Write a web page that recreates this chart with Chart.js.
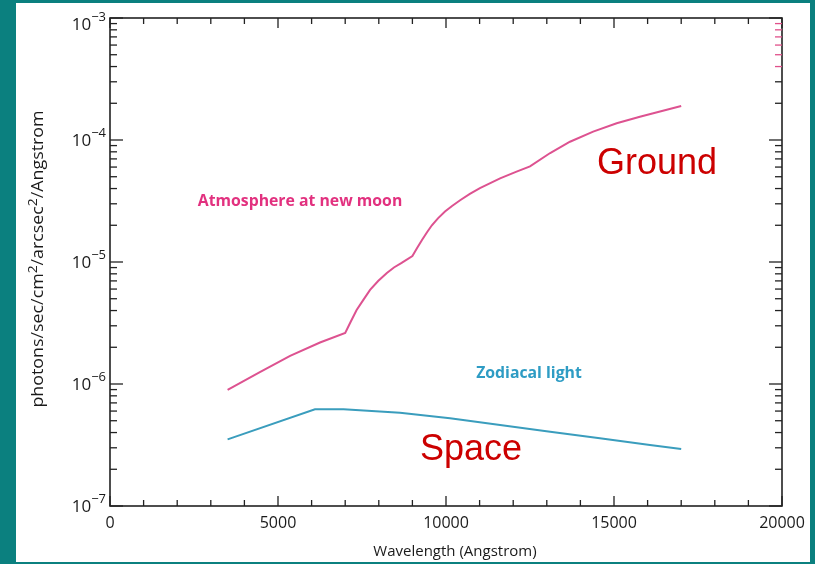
<!DOCTYPE html>
<html>
<head>
<meta charset="utf-8">
<script src="https://cdn.jsdelivr.net/npm/chart.js@4"></script>
<style>
  html, body { margin: 0; padding: 0; background: #0b807f; }
  canvas { display: block; }
</style>
</head>
<body>
<canvas id="grafica" width="815" height="564"></canvas>
<script>
// wavelength (Angstrom) and sky brightness
const atmWave = [3500, 4460, 5360, 6250, 7000, 7160, 7340, 7530, 7740, 7980, 8240, 8450, 8680, 9000, 9140, 9290, 9440, 9580, 9760, 9970, 10180, 10420, 10710, 11010, 11610, 12100, 12500, 13100, 13690, 14380, 15080, 15770, 16370, 17000];
const atmFlux = [8.93e-7, 1.25e-6, 1.7e-6, 2.19e-6, 2.62e-6, 3.22e-6, 4.04e-6, 4.85e-6, 5.9e-6, 6.99e-6, 8.13e-6, 9.02e-6, 9.82e-6, 1.12e-5, 1.3e-5, 1.52e-5, 1.76e-5, 2.0e-5, 2.28e-5, 2.59e-5, 2.88e-5, 3.21e-5, 3.62e-5, 4.04e-5, 4.85e-5, 5.5e-5, 6.07e-5, 7.82e-5, 9.68e-5, 1.17e-4, 1.37e-4, 1.55e-4, 1.71e-4, 1.9e-4];
const zodWave = [3500, 6100, 6950, 8630, 10120, 11610, 13100, 14580, 16070, 17000];
const zodFlux = [3.52e-7, 6.21e-7, 6.21e-7, 5.82e-7, 5.24e-7, 4.61e-7, 4.06e-7, 3.59e-7, 3.16e-7, 2.93e-7];

const xTickValues = [0, 5000, 10000, 15000, 20000];
const yDecades = [1e-7, 1e-6, 1e-5, 1e-4, 1e-3];
const yDecadeLabels = ["−7", "−6", "−5", "−4", "−3"];

// text labels placed in data coordinates
const notes = [
  { text: "Atmosphere at new moon", x: 5655, y: 3.12e-5, color: "#e2317f", font: "bold 15.8px 'Open Sans'" },
  { text: "Zodiacal light", x: 12470, y: 1.23e-6, color: "#2e9cc4", font: "bold 15.8px 'Open Sans'" },
  { text: "Ground", x: 16280, y: 6.4e-5, color: "#cc0000", font: "36px 'Liberation Sans'" },
  { text: "Space", x: 10745, y: 2.88e-7, color: "#cc0000", font: "36px 'Liberation Sans'" }
];

const frame = {
  id: "frame",
  beforeDraw(chart) {
    const c = chart.ctx;
    c.save();
    c.fillStyle = "#0b807f";
    c.fillRect(0, 0, chart.width, chart.height);
    c.fillStyle = "#ffffff";
    c.fillRect(16, 3, 794, 559);
    c.restore();
  },
  afterDraw(chart) {
    const c = chart.ctx;
    const xs = chart.scales.x, ys = chart.scales.y;
    const a = chart.chartArea;
    c.save();
    c.strokeStyle = "#222";
    c.lineWidth = 1.6;
    c.strokeRect(a.left, a.top, a.right - a.left, a.bottom - a.top);

    // x ticks, pointing inward, top and bottom
    c.lineWidth = 1.3;
    for (let v = 0; v <= 20000; v += 1000) {
      const px = xs.getPixelForValue(v);
      const len = v % 5000 === 0 ? 10 : 6;
      c.beginPath();
      c.moveTo(px, a.bottom); c.lineTo(px, a.bottom - len);
      c.moveTo(px, a.top); c.lineTo(px, a.top + len);
      c.stroke();
    }
    // y ticks on log scale, left and right
    yDecades.forEach(d => {
      for (let m = 1; m <= 9; m++) {
        const v = d * m;
        if (v > 1e-3 * 1.0001) break;
        const py = ys.getPixelForValue(v);
        const len = m === 1 ? 13 : 7;
        c.strokeStyle = "#222";
        c.beginPath();
        c.moveTo(a.left, py); c.lineTo(a.left + len, py);
        c.stroke();
        c.strokeStyle = (d === 1e-4 && m >= 4) ? "#e0508a" : "#222";
        c.beginPath();
        c.moveTo(a.right, py); c.lineTo(a.right - len, py);
        c.stroke();
      }
    });

    // y tick labels 10^n
    c.fillStyle = "#1a1a1a";
    c.textBaseline = "alphabetic";
    c.textAlign = "right";
    yDecades.forEach((d, i) => {
      const py = ys.getPixelForValue(d) + (d === 1e-3 ? 6 : 0);
      c.font = "13px 'Open Sans'";
      const exp = yDecadeLabels[i];
      const ew = c.measureText(exp).width;
      c.fillText(exp, a.left - 4, py - 3);
      c.font = "17px 'Open Sans'";
      c.fillText("10", a.left - 4 - ew, py + 6);
    });

    // y axis title with raised 2s
    const parts = [["photons/sec/cm", 0], ["2", 1], ["/arcsec", 0], ["2", 1], ["/Angstrom", 0]];
    const fontFor = p => p[1] ? "12px 'Open Sans'" : "15.5px 'Open Sans'";
    let total = 0;
    parts.forEach(p => { c.font = fontFor(p); total += c.measureText(p[0]).width; });
    c.textAlign = "left";
    c.translate(38, 259);
    c.rotate(-Math.PI / 2);
    c.scale(1.15, 1);
    let x0 = -total / 2;
    parts.forEach(p => {
      c.font = fontFor(p);
      c.fillText(p[0], x0, p[1] ? -1 : 5);
      x0 += c.measureText(p[0]).width;
    });
    c.setTransform(1, 0, 0, 1, 0, 0);

    // x axis title
    c.font = "15px 'Open Sans'";
    c.textAlign = "center";
    c.textBaseline = "middle";
    c.fillText("Wavelength (Angstrom)", 455, 552);

    notes.forEach(n => {
      c.font = n.font;
      c.fillStyle = n.color;
      c.textAlign = "center";
      c.textBaseline = "middle";
      c.fillText(n.text, xs.getPixelForValue(n.x), ys.getPixelForValue(n.y));
    });
    c.restore();
  }
};

new Chart(document.getElementById("grafica").getContext("2d"), {
  type: "line",
  data: {
    datasets: [
      {
        label: "Atmosphere at new moon",
        data: atmWave.map((w, i) => ({ x: w, y: atmFlux[i] })),
        borderColor: "#dd5290",
        borderWidth: 2,
        pointRadius: 0,
        tension: 0
      },
      {
        label: "Zodiacal light",
        data: zodWave.map((w, i) => ({ x: w, y: zodFlux[i] })),
        borderColor: "#3a9dbd",
        borderWidth: 2,
        pointRadius: 0,
        tension: 0
      }
    ]
  },
  options: {
    responsive: false,
    animation: false,
    layout: { padding: { left: 0, right: 33, top: 18, bottom: 0 } },
    plugins: {
      legend: { display: false },
      tooltip: { enabled: false }
    },
    scales: {
      x: {
        type: "linear",
        min: 0,
        max: 20000,
        afterBuildTicks: s => { s.ticks = xTickValues.map(v => ({ value: v })); },
        afterFit: s => { s.height = 58; },
        grid: { display: false, drawTicks: false },
        border: { display: false },
        ticks: {
          padding: 8,
          color: "#1a1a1a",
          font: { family: "'Open Sans'", size: 16 },
          maxRotation: 0,
          callback: v => String(v)
        }
      },
      y: {
        type: "logarithmic",
        min: 1e-7,
        max: 1e-3,
        afterFit: s => { s.width = 110; },
        grid: { display: false, drawTicks: false },
        border: { display: false },
        ticks: { display: false }
      }
    }
  },
  plugins: [frame]
});
</script>
</body>
</html>
